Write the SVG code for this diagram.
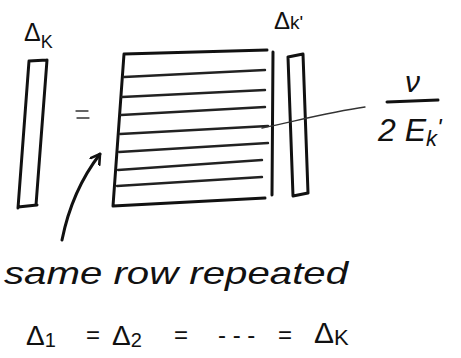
<svg xmlns="http://www.w3.org/2000/svg" width="461" height="358" viewBox="0 0 461 358">
<style>
.ink{fill:none;stroke:#111;stroke-width:3;stroke-linecap:round;stroke-linejoin:round}
.row{fill:none;stroke:#222;stroke-width:2.4;stroke-linecap:round}
.thin{fill:none;stroke:#333;stroke-width:1.3;stroke-linecap:round}
.t{font-family:"Liberation Sans","DejaVu Sans",sans-serif;fill:#111}
.hand{font-family:"Liberation Sans","DejaVu Sans",sans-serif;font-style:italic;fill:#111}
</style>
<defs>
<marker id="head" markerWidth="14" markerHeight="14" refX="10" refY="6" orient="auto" markerUnits="userSpaceOnUse">
<path d="M1,1 L10,6 L1,12" fill="none" stroke="#111" stroke-width="2.6" stroke-linecap="round" stroke-linejoin="round"/>
</marker>
</defs>
<rect width="461" height="358" fill="#fff"/>

<g id="vector-left">
<path class="ink" d="M29,61 L47,60 M29,61 L18,208 M47,60 L36,205 M18,207 L37,205"/>
<text class="t" x="24" y="41" font-size="25">Δ<tspan font-size="18" dy="7">K</tspan></text>
</g>

<g id="equals">
<path class="thin" d="M76,111 L88,111 M77,118 L89,118" stroke-width="1.8"/>
</g>

<g id="matrix">
<path class="ink" d="M124,54 L267,50 M124,54 L113,206 M113,206 L265,198 M273,52 L272,195"/>
<path class="row" d="M124,77 L265,70 M122,97 L265,90 M121,115 L265,107 M120,134 L268,126 M119,152 L268,143 M118,170 L262,160 M117,186 L262,177"/>
</g>

<g id="vector-right">
<path class="ink" d="M288,57 L303,54 M288,57 L293,196 M303,54 L308,193 M293,196 L308,193"/>
<text class="t" x="274" y="29" font-size="24">Δ<tspan font-size="19">k'</tspan></text>
</g>

<g id="fraction">
<text class="hand" x="405" y="92" font-size="30">ν</text>
<path class="ink" d="M387,102 L438,100"/>
<text class="hand" x="378" y="141" font-size="32">2 E<tspan font-size="22" dy="5">k</tspan><tspan dy="-10" font-size="24">'</tspan></text>
</g>

<g id="connectors">
<path class="thin" d="M262,128 C300,120 330,112 365,107"/>
<path class="ink" d="M62,240 C68,210 80,180 100,154" marker-end="url(#head)"/>
</g>

<g id="annotation">
<text class="hand" x="4" y="284" font-size="32" textLength="344" lengthAdjust="spacingAndGlyphs">same row repeated</text>
</g>

<g id="equation">
<text class="t" x="26" y="345" font-size="28">Δ<tspan font-size="20" dy="2">1</tspan></text>
<text class="t" x="86" y="343" font-size="24">=</text>
<text class="t" x="112" y="345" font-size="28">Δ<tspan font-size="20" dy="2">2</tspan></text>
<text class="t" x="174" y="343" font-size="24">=</text>
<text class="t" x="218" y="343" font-size="24">- - -</text>
<text class="t" x="278" y="343" font-size="24">=</text>
<text class="t" x="314" y="343" font-size="30">Δ<tspan font-size="22" dy="2">K</tspan></text>
</g>
</svg>
